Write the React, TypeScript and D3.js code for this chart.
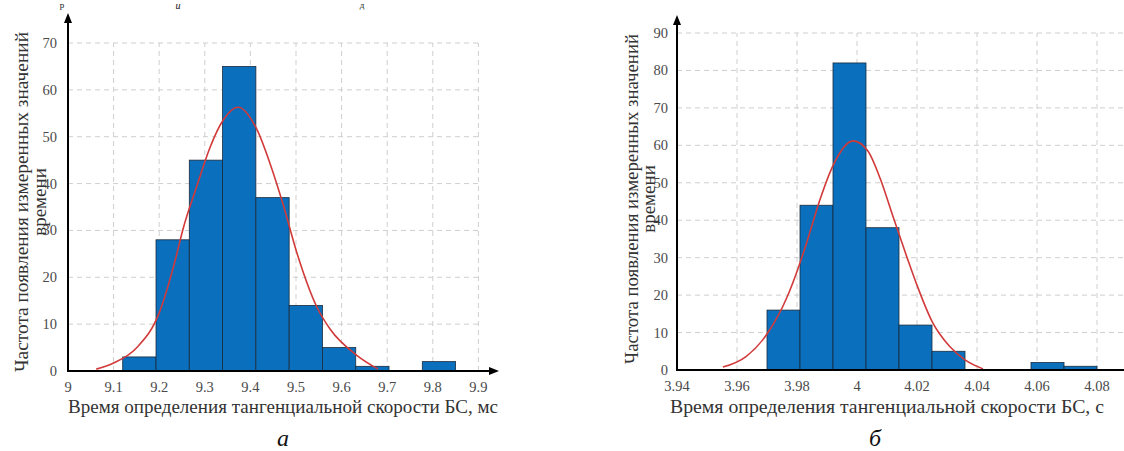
import React from "react";
import * as d3 from "d3";

// ---------- Data ----------
// Chart а (ms)
const leftBinEdges = [9.12, 9.193, 9.266, 9.339, 9.412, 9.485, 9.558, 9.631, 9.704, 9.777, 9.85];
const leftCounts = [3, 28, 45, 65, 37, 14, 5, 1, 0, 2];
const leftCurveX = [9.062, 9.1, 9.15, 9.2, 9.235, 9.252, 9.283, 9.311, 9.34, 9.373, 9.414, 9.443, 9.471, 9.502, 9.546, 9.575, 9.634, 9.68];
const leftCurveY = [0.4, 1.7, 4.9, 12.4, 23.6, 30.2, 39.6, 47.6, 53.5, 56.3, 51.6, 44.3, 35.8, 25.2, 13.6, 8.9, 3.3, 0.4];
const leftXTicks = [9, 9.1, 9.2, 9.3, 9.4, 9.5, 9.6, 9.7, 9.8, 9.9];
const leftXTickLabels = ["9", "9.1", "9.2", "9.3", "9.4", "9.5", "9.6", "9.7", "9.8", "9.9"];
const leftYTicks = [0, 10, 20, 30, 40, 50, 60, 70];

// Chart б (s)
const rightBinEdges = [3.97, 3.981, 3.992, 4.003, 4.014, 4.025, 4.036, 4.047, 4.058, 4.069, 4.08];
const rightCounts = [16, 44, 82, 38, 12, 5, 0, 0, 2, 1];
const rightCurveX = [3.9553, 3.963, 3.97, 3.9767, 3.9803, 3.9833, 3.9877, 3.992, 3.9987, 4.0037, 4.0077, 4.012, 4.0167, 4.0203, 4.025, 4.031, 4.036, 4.042];
const rightCurveY = [0.8, 3.6, 9.6, 19.5, 27.0, 34.2, 45.6, 54.6, 61.2, 58.4, 51.2, 41.0, 30.0, 22.0, 13.0, 6.2, 2.7, 0.3];
const rightXTicks = [3.94, 3.96, 3.98, 4.0, 4.02, 4.04, 4.06, 4.08];
const rightXTickLabels = ["3.94", "3.96", "3.98", "4", "4.02", "4.04", "4.06", "4.08"];
const rightYTicks = [0, 10, 20, 30, 40, 50, 60, 70, 80, 90];

const yLabelLine1 = "Частота появления измеренных значений";
const yLabelLine2 = "времени";
const leftXLabel = "Время определения тангенциальной скорости БС, мс";
const rightXLabel = "Время определения тангенциальной скорости БС, с";
const captions = ["а", "б"];
const topFragments = ["р", "и", "д"];

const FONT = "Liberation Serif, Times New Roman, serif";
const BAR = "#0a6fbd";
const BAR_EDGE = "#1b2b3c";
const CURVE = "#d23a3a";
const GRID = "#cfcfcf";
const TICK_TXT = "#4a4a4a";

type PanelProps = {
  edges: number[];
  counts: number[];
  cx: number[];
  cy: number[];
  xTicks: number[];
  xTickLabels: string[];
  yTicks: number[];
  xDomain: [number, number];
  xRange: [number, number];
  yDomain: [number, number];
  yRange: [number, number];
  gridRight: number;
  axisEnd: number;
  arrowX: boolean;
  yArrowTop: number;
  yTickEnd: number;
  yLabelX: [number, number];
  yLabelY: number;
  yLabelLen: number;
  xLabel: string;
  xLabelX: number;
  xLabelLen: number;
  captionX: number;
  caption: string;
};

const serif = { fontFamily: FONT };

function Panel(p: PanelProps) {
  const x = d3.scaleLinear().domain(p.xDomain).range(p.xRange);
  const y = d3.scaleLinear().domain(p.yDomain).range(p.yRange);
  const x0 = p.xRange[0];
  const y0 = y(0);
  const yTop = y(p.yDomain[1]);
  const pts: [number, number][] = p.cx.map((v, i) => [v, p.cy[i]]);
  const line = d3
    .line<[number, number]>()
    .x((d) => x(d[0]))
    .y((d) => y(d[1]))
    .curve(d3.curveMonotoneX);

  return (
    <g>
      {/* grid */}
      {p.yTicks.filter((t) => t > 0).map((t) => (
        <line key={"hg" + t} x1={x0} x2={p.gridRight} y1={y(t)} y2={y(t)} stroke={GRID} strokeWidth={1} strokeDasharray="5,4" />
      ))}
      {p.xTicks.filter((t, i) => i > 0).map((t) => (
        <line key={"vg" + t} x1={x(t)} x2={x(t)} y1={y0} y2={yTop} stroke={GRID} strokeWidth={1} strokeDasharray="5,4" />
      ))}
      {/* bars */}
      {p.counts.map((c, i) =>
        c > 0 ? (
          <rect
            key={"b" + i}
            x={x(p.edges[i])}
            y={y(c)}
            width={x(p.edges[i + 1]) - x(p.edges[i])}
            height={y0 - y(c)}
            fill={BAR}
            stroke={BAR_EDGE}
            strokeWidth={0.8}
          />
        ) : null
      )}
      {/* fitted curve */}
      <path d={line(pts) || ""} fill="none" stroke={CURVE} strokeWidth={1.6} />
      {/* axes */}
      <line x1={x0} x2={p.arrowX ? p.axisEnd - 8 : p.axisEnd} y1={y0} y2={y0} stroke="#000" strokeWidth={2} />
      {p.arrowX ? (
        <path d={`M${p.axisEnd - 10},${y0 - 4} L${p.axisEnd},${y0} L${p.axisEnd - 10},${y0 + 4} Z`} fill="#000" />
      ) : null}
      <line x1={x0} x2={x0} y1={y0 + 1} y2={p.yArrowTop + 8} stroke="#000" strokeWidth={2} />
      <path d={`M${x0 - 4},${p.yArrowTop + 10} L${x0},${p.yArrowTop} L${x0 + 4},${p.yArrowTop + 10} Z`} fill="#000" />
      {/* tick labels */}
      {p.xTicks.map((t, i) => (
        <text key={"xl" + t} x={x(t)} y={y0 + 21} textAnchor="middle" fontSize={14.5} fill={TICK_TXT} style={serif}>
          {p.xTickLabels[i]}
        </text>
      ))}
      {p.yTicks.map((t) => (
        <text key={"yl" + t} x={p.yTickEnd} y={y(t) + 5} textAnchor="end" fontSize={14.5} fill={TICK_TXT} style={serif}>
          {t}
        </text>
      ))}
      {/* axis titles */}
      <text
        transform={`translate(${p.yLabelX[0]},${p.yLabelY}) rotate(-90)`}
        textAnchor="middle"
        fontSize={19}
        fill="#333"
        textLength={p.yLabelLen}
        lengthAdjust="spacingAndGlyphs"
        style={serif}
      >
        {yLabelLine1}
      </text>
      <text
        transform={`translate(${p.yLabelX[1]},${p.yLabelY}) rotate(-90)`}
        textAnchor="middle"
        fontSize={19}
        fill="#333"
        style={serif}
      >
        {yLabelLine2}
      </text>
      <text
        x={p.xLabelX}
        y={413}
        textAnchor="middle"
        fontSize={19}
        fill="#333"
        textLength={p.xLabelLen}
        lengthAdjust="spacingAndGlyphs"
        style={serif}
      >
        {p.xLabel}
      </text>
      <text x={p.captionX} y={446} textAnchor="middle" fontSize={24} fontStyle="italic" fill="#111" style={serif}>
        {p.caption}
      </text>
    </g>
  );
}

export default function App() {
  return (
    <svg
      width={1124}
      height={451}
      viewBox="0 0 1124 451"
      style={{ position: "absolute", left: 0, top: 0, background: "#fff" }}
    >
      <rect x={0} y={0} width={1124} height={451} fill="#fff" />
      {/* fragments of a line of page text at the very top */}
      <text x={62} y={8} fontSize={9} fill="#111" textAnchor="middle" style={serif}>{topFragments[0]}</text>
      <text x={178} y={9} fontSize={10} fontStyle="italic" fill="#111" textAnchor="middle" style={serif}>{topFragments[1]}</text>
      <text x={362} y={8} fontSize={9} fill="#111" textAnchor="middle" style={serif}>{topFragments[2]}</text>

      <Panel
        edges={leftBinEdges}
        counts={leftCounts}
        cx={leftCurveX}
        cy={leftCurveY}
        xTicks={leftXTicks}
        xTickLabels={leftXTickLabels}
        yTicks={leftYTicks}
        xDomain={[9, 9.9]}
        xRange={[68, 478.4]}
        yDomain={[0, 70]}
        yRange={[371, 43]}
        gridRight={479}
        axisEnd={499}
        arrowX={true}
        yArrowTop={13}
        yTickEnd={57}
        yLabelX={[28, 46]}
        yLabelY={202}
        yLabelLen={340}
        xLabel={leftXLabel}
        xLabelX={283}
        xLabelLen={430}
        captionX={283}
        caption={captions[0]}
      />
      <Panel
        edges={rightBinEdges}
        counts={rightCounts}
        cx={rightCurveX}
        cy={rightCurveY}
        xTicks={rightXTicks}
        xTickLabels={rightXTickLabels}
        yTicks={rightYTicks}
        xDomain={[3.94, 4.08]}
        xRange={[677, 1097]}
        yDomain={[0, 90]}
        yRange={[370, 33]}
        gridRight={1124}
        axisEnd={1124}
        arrowX={false}
        yArrowTop={15}
        yTickEnd={668}
        yLabelX={[638, 655]}
        yLabelY={199}
        yLabelLen={330}
        xLabel={rightXLabel}
        xLabelX={887}
        xLabelLen={434}
        captionX={875}
        caption={captions[1]}
      />
    </svg>
  );
}
